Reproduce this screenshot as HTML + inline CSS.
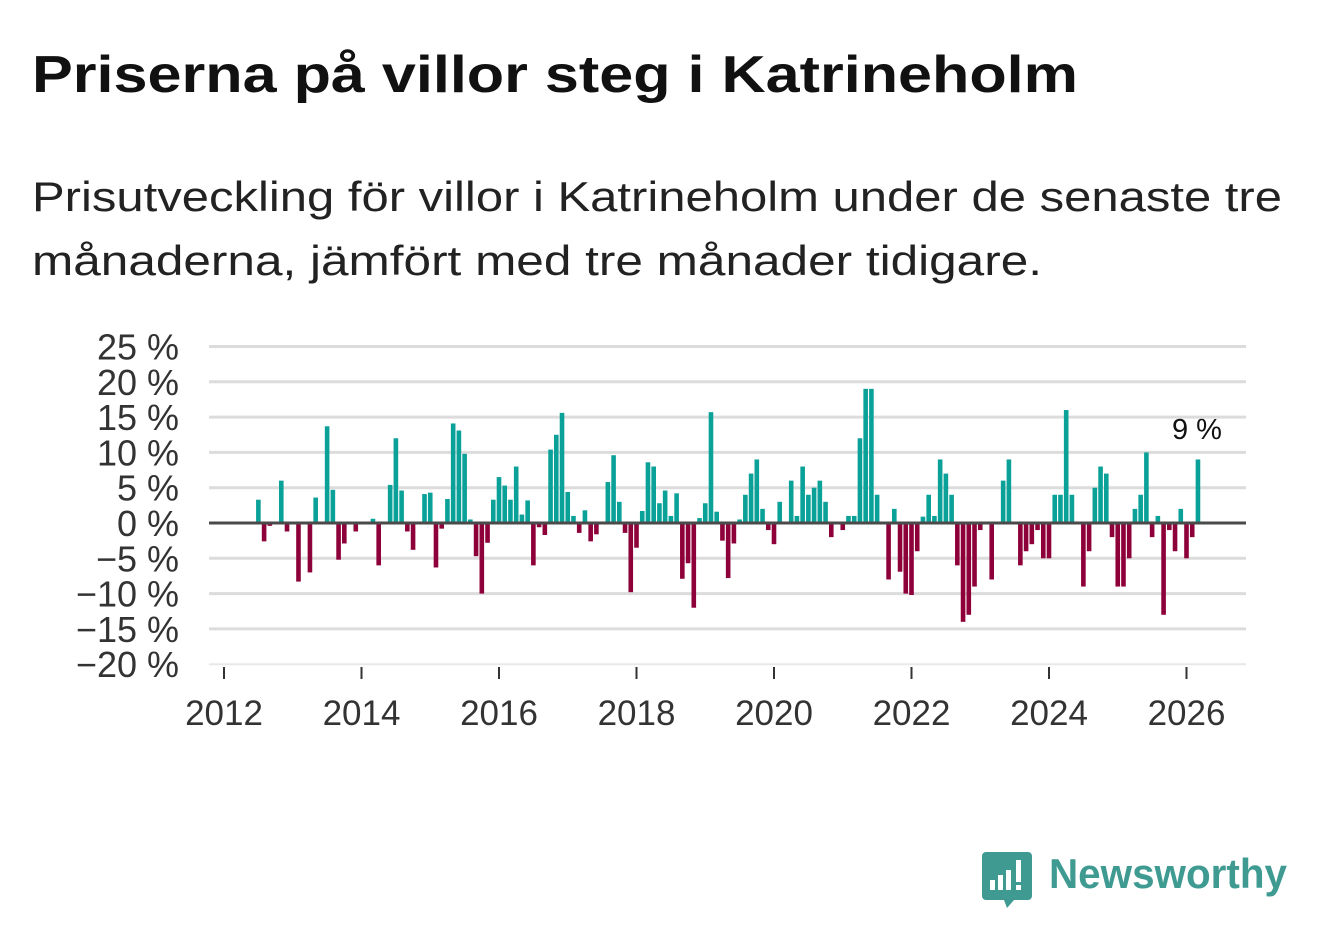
<!DOCTYPE html>
<html><head><meta charset="utf-8"><style>
html,body{margin:0;padding:0;background:#fff;}
svg{display:block;font-family:"Liberation Sans",sans-serif;}
</style></head><body>
<svg id="chart" width="1322" height="939" viewBox="0 0 1322 939" xmlns="http://www.w3.org/2000/svg">
<text x="32" y="92" font-size="52" font-weight="bold" fill="#111" textLength="1046" lengthAdjust="spacingAndGlyphs">Priserna på villor steg i Katrineholm</text>
<text x="32" y="211" font-size="42" fill="#222" textLength="1250" lengthAdjust="spacingAndGlyphs">Prisutveckling för villor i Katrineholm under de senaste tre</text>
<text x="32" y="275" font-size="42" fill="#222" textLength="1010" lengthAdjust="spacingAndGlyphs">månaderna, jämfört med tre månader tidigare.</text>
<g id="grid"></g>
<g id="bars"></g>
<g id="axes"></g>
<text x="1197" y="439" font-size="29" fill="#111" text-anchor="middle">9 %</text>
<g>
<path d="M986 852 h42 a4 4 0 0 1 4 4 v40 a4 4 0 0 1 -4 4 h-14 l-7 8 l-3 -8 h-18 a4 4 0 0 1 -4 -4 v-40 a4 4 0 0 1 4 -4z" fill="#3f9b91"/>
<rect x="990" y="880" width="5" height="10" fill="#fff"/>
<rect x="998" y="875" width="5" height="15" fill="#fff"/>
<rect x="1006" y="870" width="5" height="20" fill="#fff"/>
<rect x="1016" y="860" width="5" height="22" fill="#fff"/>
<rect x="1016" y="885" width="5" height="5" fill="#fff"/>
<text x="1049" y="888" font-size="42" font-weight="bold" fill="#3f9b91" textLength="238" lengthAdjust="spacingAndGlyphs">Newsworthy</text>
</g>
</svg>
<script>
const yTicks = [25,20,15,10,5,0,-5,-10,-15,-20];
const yTickLabels = ["25 %","20 %","15 %","10 %","5 %","0 %","\u22125 %","\u221210 %","\u221215 %","\u221220 %"];
const xTickYears = [2012,2014,2016,2018,2020,2022,2024,2026];
const startYear = 2012;
const values = [
 0,0,0,0,0,0,3.3,-2.6,-0.4,0,6,-1.2,
 0,-8.3,0,-7,3.6,0,13.7,4.7,-5.2,-2.9,0,-1.2,
 0,0,0.6,-6,0,5.4,12,4.6,-1.2,-3.8,0,4.1,
 4.3,-6.3,-0.8,3.4,14.1,13.1,9.8,0.5,-4.7,-10,-2.8,3.3,
 6.5,5.3,3.3,8,1.2,3.2,-6,-0.6,-1.7,10.4,12.5,15.6,
 4.4,1,-1.4,1.8,-2.6,-1.6,0,5.8,9.6,3,-1.4,-9.8,
 -3.5,1.7,8.6,8,2.8,4.6,1,4.2,-7.9,-5.7,-12,0.7,
 2.8,15.7,1.6,-2.5,-7.8,-2.9,0.5,4,7,9,2,-1,
 -3,3,0,6,1,8,4,5,6,3,-2,0,
 -1,1,1,12,19,19,4,0,-8,2,-6.9,-10,
 -10.2,-4,0.9,4,1,9,7,4,-6,-14,-13,-9,
 -1,0,-8,0,6,9,0,-6,-4,-3,-1,-5,
 -5,4,4,16,4,0,-9,-4,5,8,7,-2,
 -9,-9,-5,2,4,10,-2,1,-13,-1,-4,2,
 -5,-2,9
];
const NS="http://www.w3.org/2000/svg";
const X0=224, PX_PER_MONTH=68.75/12, Y0=523, PX_PER_PCT=7.06;
function xScale(m){return X0+PX_PER_MONTH*m;}
function yScale(v){return Y0-PX_PER_PCT*v;}
function mk(tag,attrs,parent){const e=document.createElementNS(NS,tag);for(const k in attrs)e.setAttribute(k,attrs[k]);parent.appendChild(e);return e;}
const grid=document.getElementById('grid'), bars=document.getElementById('bars'), axes=document.getElementById('axes');
yTicks.forEach((t,i)=>{
  if(t!==0){
    const l=mk('line',{x1:209,x2:1246,y1:yScale(t),y2:yScale(t),stroke:t===-20?'#e8e8e8':'#dcdcdc','stroke-width':t===-20?2:3},grid);
    
    
  }
  const tx=mk('text',{x:179,y:yScale(t)+13,'font-size':36,fill:'#333','text-anchor':'end'},axes);
  tx.textContent=yTickLabels[i];
  
  
});
values.forEach((v,m)=>{
  if(v===0)return;
  const x=xScale(m)-2.3;
  const y=v>0?yScale(v):Y0;
  const r=mk('rect',{x:x,y:y,width:4.6,height:Math.abs(v)*PX_PER_PCT,fill:v>0?'#0aa198':'#8e0039'},bars);
  
  
});
const zl=mk('line',{x1:209,x2:1246,y1:Y0,y2:Y0,stroke:'#4a4a4a','stroke-width':3},axes);


xTickYears.forEach(yr=>{
  const x=xScale((yr-startYear)*12);
  const tk=mk('line',{x1:x,x2:x,y1:667,y2:679,stroke:'#333','stroke-width':2},axes);
  
  
  const tx=mk('text',{x:x,y:725,'font-size':35,fill:'#333','text-anchor':'middle'},axes);
  tx.textContent=String(yr);
  
  
});
</script>
</body></html>
